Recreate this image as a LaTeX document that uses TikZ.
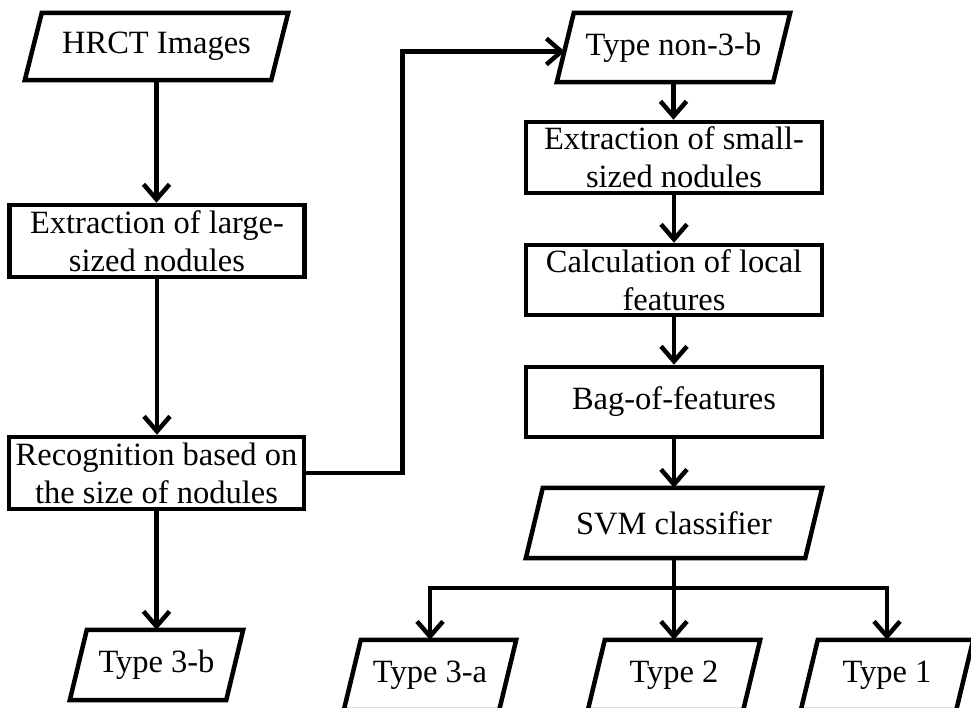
\documentclass[tikz,border=0pt]{standalone}
\usepackage{fontspec}
\setmainfont{Liberation Serif}
\usetikzlibrary{arrows.meta,calc}
\begin{document}
\begin{tikzpicture}[x=1pt,y=-1pt,
  lw/.style={line width=4.5pt, line join=miter},
  txt/.style={inner sep=0pt, align=center, font=\fontsize{32.5}{38}\selectfont},
  boxn/.style={txt, draw, lw},
  paran/.style={txt},
  arr/.style={lw, -{Straight Barb[length=15pt,width=26pt]}},
]
\clip (0,0) rectangle (971,707);
\fill[white] (0,0) rectangle (971,707);

% left column
\node[paran, minimum width=263pt, minimum height=67pt] (hrct) at (156.5,46.5) {HRCT Images};
\node[boxn, minimum width=295pt, minimum height=72pt] (ext1) at (157,241) {Extraction of large-\\sized nodules};
\node[boxn, minimum width=295pt, minimum height=72pt] (recog) at (156.5,473) {Recognition based on\\the size of nodules};
\node[paran, minimum width=173pt, minimum height=70pt] (t3b) at (156.5,665) {Type 3-b};

% right column
\node[paran, minimum width=233pt, minimum height=69pt] (non3b) at (673.5,47.5) {Type non-3-b};
\node[boxn, minimum width=296pt, minimum height=71pt] (ext2) at (674,157.5) {Extraction of small-\\sized nodules};
\node[boxn, minimum width=296pt, minimum height=70pt] (calc) at (674,280) {Calculation of local\\features};
\node[boxn, minimum width=296pt, minimum height=70pt] (bag) at (674,402) {Bag-of-features};
\node[paran, minimum width=296pt, minimum height=70pt] (svm) at (674,523) {SVM classifier};

% outputs
\node[paran, minimum width=172pt, minimum height=70pt] (t3a) at (430,675) {Type 3-a};
\node[paran, minimum width=172pt, minimum height=70pt] (t2) at (674,675) {Type 2};
\node[paran, minimum width=172pt, minimum height=70pt] (t1) at (887,675) {Type 1};

% parallelogram outlines
\foreach \n in {hrct,t3b,non3b,svm,t3a,t2,t1}
  \draw[lw] ([xshift=17pt]\n.north west) -- (\n.north east)
    -- ([xshift=-17pt]\n.south east) -- (\n.south west) -- cycle;

% connectors
\draw[arr] (hrct.south) -- (hrct.south |- ext1.north);
\draw[arr] (ext1.south) -- (ext1.south |- recog.north);
\draw[arr] (recog.south) -- (recog.south |- t3b.north);
\draw[arr] (recog.east) -- ++(96,0) coordinate (up) |- ([xshift=8pt,yshift=-4pt]non3b.west);
\draw[arr] (non3b.south) -- (non3b.south |- ext2.north);
\draw[arr] (ext2.south) -- (calc.north);
\draw[arr] (calc.south) -- (bag.north);
\draw[arr] (bag.south) -- (svm.north);
\draw[lw] (svm.south) -- ++(0,30) coordinate (br);
\draw[arr] (br) -| (t3a.north);
\draw[arr] (br) -| (t1.north);
\draw[arr] (br) -- (t2.north);
\end{tikzpicture}
\end{document}
